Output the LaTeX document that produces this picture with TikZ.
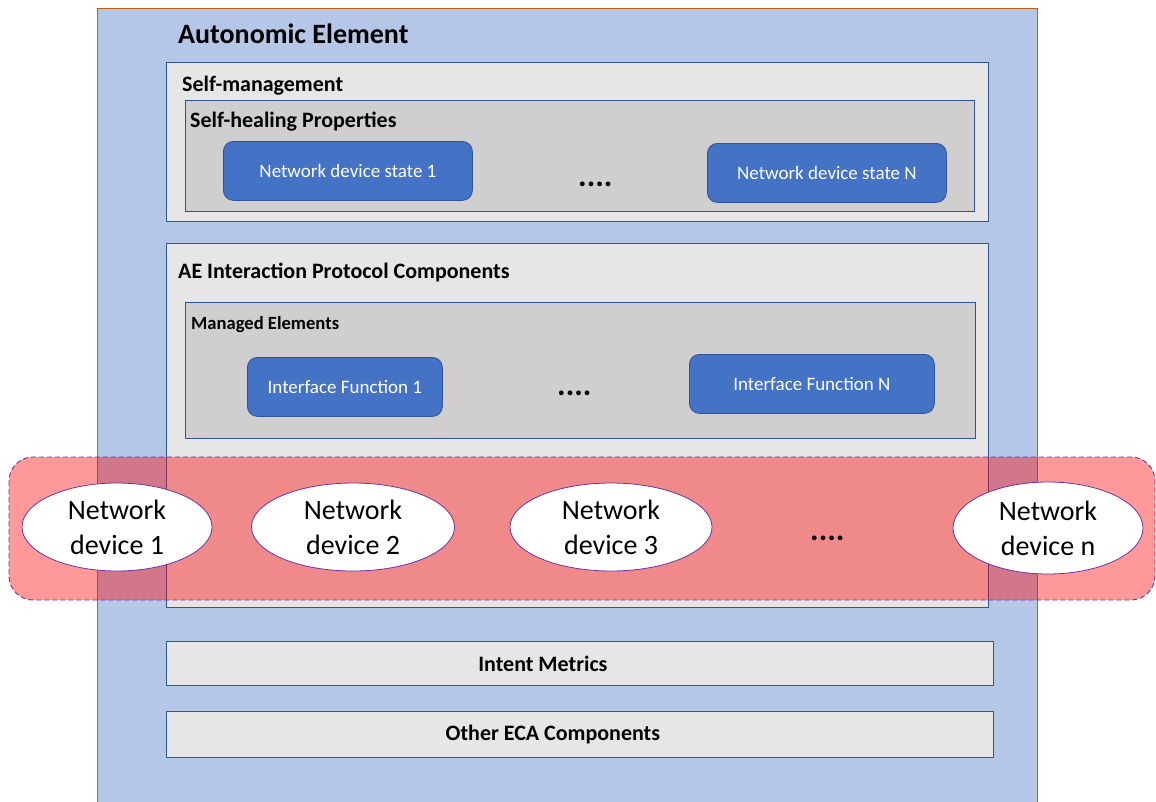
\documentclass[tikz,border=0pt]{standalone}
\usepackage{fontspec}
\setmainfont{Carlito}
\usetikzlibrary{shapes.geometric}
\definecolor{aeblue}{HTML}{B4C7E7}
\definecolor{aeorange}{HTML}{C55A11}
\definecolor{boxgray}{HTML}{E6E6E6}
\definecolor{innergray}{HTML}{D0CECE}
\definecolor{edgeblue}{HTML}{2F5597}
\definecolor{fillblue}{HTML}{4472C4}
\definecolor{bandpurple}{HTML}{7030A0}
\tikzset{
  container/.style={draw=edgeblue, line width=0.8pt, fill=boxgray},
  innerbox/.style={draw=edgeblue, line width=0.8pt, fill=innergray},
  bluebox/.style={draw=edgeblue, line width=0.8pt, fill=fillblue, rounded corners=10pt,
    text=white, font=\fontsize{19}{22}\selectfont, inner sep=0pt, anchor=north west},
  lbl/.style={anchor=base west, inner sep=0pt, font=\bfseries\fontsize{22}{26}\selectfont},
  dev/.style={ellipse, draw=bandpurple, line width=0.8pt, fill=white, minimum width=190pt,
    minimum height=88pt, inner sep=0pt, align=center, font=\fontsize{28}{35}\selectfont},
  dots/.style={anchor=base west, inner sep=0pt, font=\bfseries\fontsize{32}{36}\selectfont},
  barbox/.style={draw=edgeblue, line width=0.8pt, fill=boxgray, anchor=north west, inner sep=0pt},
  bartext/.style={inner sep=0pt, font=\bfseries\fontsize{22}{26}\selectfont}
}
\begin{document}
\begin{tikzpicture}[x=1pt,y=-1pt]
\useasboundingbox (0,0) rectangle (1156,801);
% Autonomic element
\draw[draw=aeorange, line width=0.8pt, fill=aeblue] (97,8) rectangle (1037,805);
\node[anchor=base west, inner sep=0pt, font=\bfseries\fontsize{28}{32}\selectfont] (title) at (178,43) {Autonomic Element};
% Self-management
\draw[container] (166,62) rectangle (988,221);
\node[lbl] (smlbl) at (182,91) {Self-management};
\draw[innerbox] (185,100) rectangle (974,211);
\node[lbl] (shlbl) at (190,127) {Self-healing Properties};
\node[bluebox, minimum width=249pt, minimum height=59pt] (nds1) at (223,141) {Network device state 1};
\node[dots] (dots1) at (578,186) {....};
\node[bluebox, minimum width=239pt, minimum height=59pt] (ndsN) at (707,143) {Network device state N};
% AE interaction protocol
\draw[container] (166,243) rectangle (988,607);
\node[lbl] (aelbl) at (178,278) {AE Interaction Protocol Components};
\draw[innerbox] (185,302) rectangle (975,438);
\node[lbl, font=\bfseries\fontsize{18.6}{22}\selectfont] (melbl) at (191,329) {Managed Elements};
\node[bluebox, minimum width=195pt, minimum height=59pt] (if1) at (247,357) {Interface Function 1};
\node[dots] (dots2) at (557,395) {....};
\node[bluebox, minimum width=245pt, minimum height=59pt] (ifN) at (689,354) {Interface Function N};
% network band
\draw[draw=bandpurple, line width=0.9pt, dash pattern=on 5pt off 3pt, fill=red, fill opacity=0.4,
  rounded corners=24pt] (9,457) rectangle (1155,600);
\node[dev] (d1) at (117,527) {Network\\device 1};
\node[dev, minimum width=203pt] (d2) at (353,527) {Network\\device 2};
\node[dev, minimum width=202pt] (d3) at (611,527) {Network\\device 3};
\node[dots] (dots3) at (810,540) {....};
\node[dev, minimum height=92pt] (dn) at (1048,528) {Network\\device n};
% bottom bars
\node[barbox, minimum width=827pt, minimum height=44pt] (im) at (166,641) {};
\node[bartext] (imt) at ([xshift=-37pt]im.center) {Intent Metrics};
\node[barbox, minimum width=827pt, minimum height=46pt] (eca) at (166,711) {};
\node[bartext] (ecat) at ([xshift=-27pt]eca.center) {Other ECA Components};
\end{tikzpicture}
\end{document}
